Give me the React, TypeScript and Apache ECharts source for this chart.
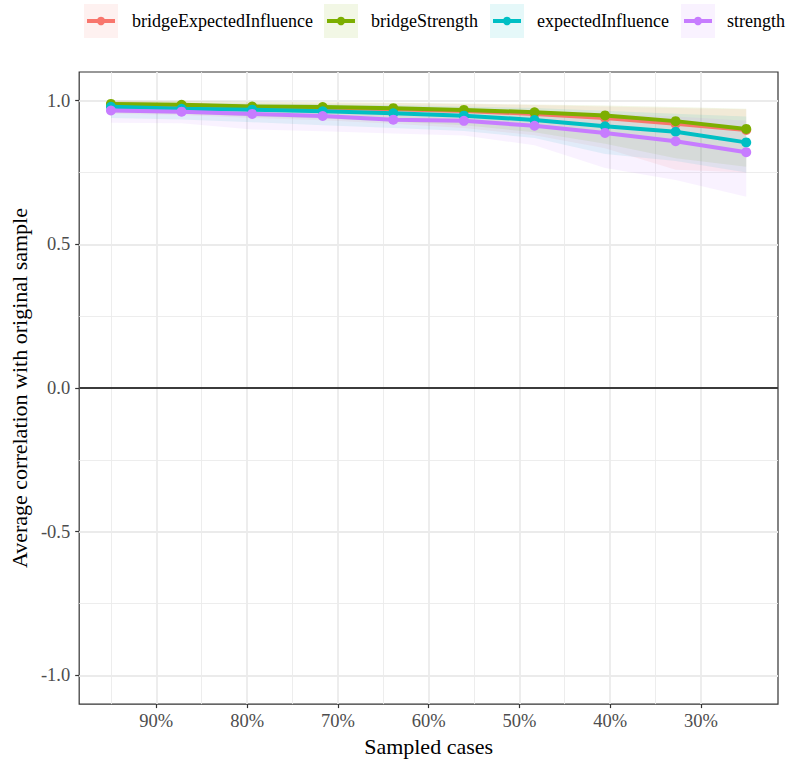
import React, { useEffect, useRef } from "react";
import * as echarts from "echarts";

const seriesNames = ["bridgeExpectedInfluence", "bridgeStrength", "expectedInfluence", "strength"];
const colors = ["#F8766D", "#7CAE00", "#00BFC4", "#C77CFF"];
const sampledCases = [0.95, 0.8722, 0.7944, 0.7167, 0.6389, 0.5611, 0.4833, 0.4056, 0.3278, 0.25];

const bridgeEIMean = [0.987, 0.984, 0.978, 0.975, 0.97, 0.964, 0.954, 0.94, 0.92, 0.898];
const bridgeEILow = [0.955, 0.95, 0.94, 0.932, 0.92, 0.905, 0.88, 0.835, 0.76, 0.75];
const bridgeEIHigh = [1.0, 0.998, 0.996, 0.994, 0.992, 0.989, 0.985, 0.98, 0.975, 0.97];

const bridgeSMean = [0.989, 0.986, 0.98, 0.978, 0.974, 0.968, 0.96, 0.949, 0.929, 0.902];
const bridgeSLow = [0.96, 0.955, 0.945, 0.938, 0.928, 0.915, 0.89, 0.85, 0.8, 0.77];
const bridgeSHigh = [1.0, 0.999, 0.997, 0.995, 0.993, 0.99, 0.987, 0.983, 0.978, 0.972];

const eiMean = [0.979, 0.972, 0.969, 0.963, 0.956, 0.948, 0.933, 0.911, 0.892, 0.855];
const eiLow = [0.94, 0.935, 0.925, 0.915, 0.905, 0.895, 0.87, 0.815, 0.79, 0.75];
const eiHigh = [0.995, 0.993, 0.99, 0.988, 0.985, 0.98, 0.975, 0.965, 0.955, 0.945];

const strengthMean = [0.966, 0.962, 0.954, 0.947, 0.934, 0.93, 0.913, 0.888, 0.859, 0.821];
const strengthLow = [0.923, 0.922, 0.9, 0.894, 0.886, 0.879, 0.845, 0.766, 0.724, 0.666];
const strengthHigh = [0.99, 0.988, 0.985, 0.982, 0.978, 0.972, 0.965, 0.955, 0.945, 0.93];

const means = [bridgeEIMean, bridgeSMean, eiMean, strengthMean];
const lows = [bridgeEILow, bridgeSLow, eiLow, strengthLow];
const highs = [bridgeEIHigh, bridgeSHigh, eiHigh, strengthHigh];

const xTicks = [0.9, 0.8, 0.7, 0.6, 0.5, 0.4, 0.3];
const xMinorTicks = [0.95, 0.85, 0.75, 0.65, 0.55, 0.45, 0.35];
const yTicks = [-1, -0.5, 0, 0.5, 1];
const yMinorTicks = [-0.75, -0.25, 0.25, 0.75];

const FONT = '"Liberation Serif", "Times New Roman", serif';

// legend layout
const legendBoxX = [84, 324, 490, 681];
const legendTextX = [132, 371, 537, 727];

function hexToRgba(hex: string, a: number) {
  const n = parseInt(hex.slice(1), 16);
  return `rgba(${(n >> 16) & 255},${(n >> 8) & 255},${n & 255},${a})`;
}

export default function App() {
  const ref = useRef<HTMLDivElement>(null);
  useEffect(() => {
    if (!ref.current) return;
    const chart = echarts.init(ref.current, undefined, { renderer: "svg" });

    const gridLines: any[] = [];
    xMinorTicks.forEach((v) => gridLines.push({ xAxis: v, lineStyle: { color: "#EBEBEB", width: 0.9, type: "solid" } }));
    yMinorTicks.forEach((v) => gridLines.push({ yAxis: v, lineStyle: { color: "#EBEBEB", width: 0.9, type: "solid" } }));
    xTicks.forEach((v) => gridLines.push({ xAxis: v, lineStyle: { color: "#EBEBEB", width: 1.8, type: "solid" } }));
    yTicks.forEach((v) => gridLines.push({ yAxis: v, lineStyle: { color: "#EBEBEB", width: 1.8, type: "solid" } }));

    const series: any[] = [];
    series.push({
      type: "line",
      name: "grid",
      data: [[0.5, 0]],
      symbol: "none",
      lineStyle: { opacity: 0 },
      silent: true,
      z: 1,
      markLine: {
        silent: true,
        symbol: ["none", "none"],
        label: { show: false },
        z: 1,
        animation: false,
        data: gridLines,
      },
    });
    series.push({
      type: "line",
      name: "zero",
      data: [[0.5, 0]],
      symbol: "none",
      lineStyle: { opacity: 0 },
      silent: true,
      z: 1,
      markLine: {
        silent: true,
        symbol: ["none", "none"],
        label: { show: false },
        z: 1.5,
        animation: false,
        data: [{ yAxis: 0, lineStyle: { color: "#000000", width: 1.5, type: "solid" } }],
      },
    });

    seriesNames.forEach((name, i) => {
      series.push({
        type: "custom",
        name: name + "_band",
        silent: true,
        z: 2,
        data: sampledCases.map((x, j) => [x, lows[i][j], highs[i][j]]),
        encode: { x: 0, y: [1, 2] },
        renderItem: (params: any, api: any) => {
          if (params.dataIndex !== 0) return null;
          const pts: number[][] = [];
          for (let j = 0; j < sampledCases.length; j++) {
            pts.push(api.coord([sampledCases[j], highs[i][j]]));
          }
          for (let j = sampledCases.length - 1; j >= 0; j--) {
            pts.push(api.coord([sampledCases[j], lows[i][j]]));
          }
          return {
            type: "polygon",
            shape: { points: pts },
            style: { fill: hexToRgba(colors[i], 0.1), stroke: "none" },
          };
        },
      });
    });

    seriesNames.forEach((name, i) => {
      series.push({
        type: "line",
        name,
        data: sampledCases.map((x, j) => [x, means[i][j]]),
        symbol: "circle",
        symbolSize: 10,
        showSymbol: true,
        lineStyle: { color: colors[i], width: 4 },
        itemStyle: { color: colors[i] },
        z: 3 + i,
        silent: true,
      });
    });

    const graphic: any[] = [];
    seriesNames.forEach((name, i) => {
      const bx = legendBoxX[i];
      graphic.push({
        type: "rect",
        shape: { x: bx, y: 4, width: 34, height: 34 },
        style: { fill: hexToRgba(colors[i], 0.1) },
      });
      graphic.push({
        type: "line",
        shape: { x1: bx + 3, y1: 21, x2: bx + 31, y2: 21 },
        style: { stroke: colors[i], lineWidth: 4 },
      });
      graphic.push({
        type: "circle",
        shape: { cx: bx + 17, cy: 21, r: 4.2 },
        style: { fill: colors[i] },
      });
      graphic.push({
        type: "text",
        x: legendTextX[i],
        y: 21,
        style: {
          text: name,
          font: `18px ${FONT}`,
          fill: "#000000",
          textVerticalAlign: "middle",
          verticalAlign: "middle",
        },
      });
    });

    chart.setOption({
      animation: false,
      backgroundColor: "#ffffff",
      grid: {
        left: 77,
        right: 10,
        top: 72,
        bottom: 53.5,
        show: true,
        borderColor: "#333333",
        borderWidth: 1.2,
        backgroundColor: "transparent",
      },
      xAxis: {
        type: "value",
        inverse: true,
        min: 0.215,
        max: 0.985,
        name: "Sampled cases",
        nameLocation: "middle",
        nameGap: 28,
        nameTextStyle: { fontFamily: FONT, fontSize: 22, color: "#000000" },
        axisLine: { show: false, onZero: false },
        axisTick: {
          show: true,
          length: 4,
          customValues: xTicks,
          lineStyle: { color: "#333333", width: 1.2 },
        },
        axisLabel: {
          customValues: xTicks,
          margin: 7,
          fontFamily: FONT,
          fontSize: 18.5,
          color: "#4D4D4D",
          formatter: (v: number) => Math.round(v * 100) + "%",
        },
        splitLine: { show: false },
      },
      yAxis: {
        type: "value",
        min: -1.1,
        max: 1.1,
        name: "Average correlation with original sample",
        nameLocation: "middle",
        nameRotate: 90,
        nameGap: 38,
        nameTextStyle: { fontFamily: FONT, fontSize: 22, color: "#000000" },
        axisLine: { show: false, onZero: false },
        axisTick: {
          show: true,
          length: 4,
          customValues: yTicks,
          lineStyle: { color: "#333333", width: 1.2 },
        },
        axisLabel: {
          customValues: yTicks,
          margin: 9,
          fontFamily: FONT,
          fontSize: 18.5,
          color: "#4D4D4D",
          formatter: (v: number) => v.toFixed(1),
        },
        splitLine: { show: false },
      },
      graphic,
      series,
    });
    return () => chart.dispose();
  }, []);
  return (
    <div
      ref={ref}
      style={{ position: "fixed", left: 0, top: 0, width: 788, height: 762, background: "#fff" }}
    />
  );
}
